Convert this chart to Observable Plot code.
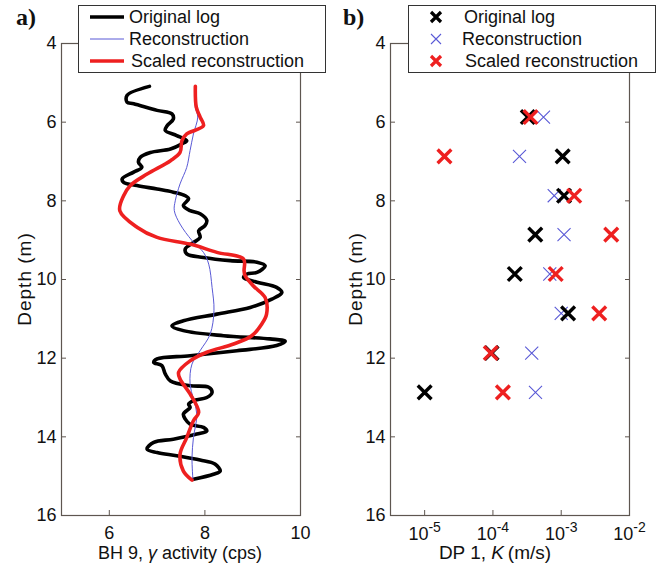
<!DOCTYPE html>
<html><head><meta charset="utf-8">
<script src="https://cdn.jsdelivr.net/npm/d3@7"></script>
<script src="https://cdn.jsdelivr.net/npm/@observablehq/plot@0.6"></script>
<style>
body{margin:0;background:#fff;}
#wrap{position:relative;width:669px;height:567px;font-family:"Liberation Sans",Arial,sans-serif;color:#111;overflow:hidden;background:#fff;}
#wrap svg{position:absolute;top:0;}
.t{position:absolute;white-space:nowrap;font-size:18px;line-height:18px;}
.legend{position:absolute;background:#fff;border:1px solid #333;box-sizing:border-box;}
.legend svg{position:absolute;}
.plab{position:absolute;font-family:"Liberation Serif","Times New Roman",serif;font-weight:bold;font-size:24px;line-height:24px;}
</style></head>
<body><div id="wrap"></div>
<script>
// ---------- Panel a: gamma log (cps) vs depth (m)
const origDepth = [5.09,5.32,5.49,5.53,5.70,5.79,5.92,6.09,6.21,6.34,6.47,6.55,6.68,6.77,6.89,7.02,7.15,7.27,7.44,7.53,7.61,7.70,7.78,7.87,7.95,8.12,8.25,8.33,8.50,8.63,8.76,8.93,9.06,9.22,9.35,9.44,9.52,9.56,9.65,9.82,9.86,9.95,10.07,10.20,10.33,10.50,10.71,10.88,11.05,11.18,11.30,11.43,11.51,11.57,11.68,11.81,11.94,12.02,12.11,12.19,12.40,12.58,12.70,12.74,12.87,13.00,13.08,13.17,13.25,13.42,13.55,13.68,13.76,13.85,13.93,14.06,14.14,14.31,14.40,14.48,14.59,14.69,14.87,14.95,15.08];
const origGamma = [6.84,6.37,6.37,6.51,7.00,7.31,7.34,7.21,7.17,7.41,7.62,7.52,7.28,6.86,6.65,6.61,6.68,6.51,6.27,6.30,6.58,7.00,7.34,7.59,7.66,7.55,7.69,7.90,8.04,8.00,7.87,7.90,7.76,7.59,7.62,7.97,8.53,9.09,9.26,9.09,8.88,8.81,9.09,9.50,9.61,9.40,8.95,8.25,7.55,7.31,7.55,8.39,9.36,9.68,9.50,8.67,7.69,7.00,6.93,7.10,7.17,7.28,7.69,8.08,8.15,8.04,7.76,7.66,7.69,7.55,7.59,7.69,7.97,8.04,7.83,7.34,6.93,6.79,7.00,7.41,7.90,8.21,8.32,8.18,7.76];
const recDepth = [5.09,5.62,5.87,6.30,6.72,7.15,7.57,8.00,8.25,8.59,9.01,9.31,9.61,10.20,10.79,11.39,11.81,12.15,12.66,13.42,14.02,14.53,15.10];
const recGamma = [7.80,7.80,7.85,7.76,7.69,7.62,7.48,7.38,7.36,7.48,7.73,7.97,8.08,8.15,8.19,8.11,7.90,7.73,7.69,7.83,7.76,7.73,7.75];
const scaledDepth = [5.09,5.62,5.87,6.09,6.30,6.47,6.77,6.98,7.32,7.61,7.87,8.25,8.67,8.93,9.10,9.31,9.48,9.78,9.90,10.16,10.46,10.88,11.13,11.43,11.64,11.85,12.07,12.36,12.53,12.91,13.38,13.59,14.02,14.44,14.87,15.10];
const scaledGamma = [7.80,7.82,7.90,7.97,7.62,7.52,7.48,7.28,6.79,6.44,6.30,6.22,6.58,7.00,7.69,8.25,8.81,8.82,8.84,9.01,9.26,9.29,9.19,8.98,8.60,8.04,7.69,7.45,7.48,7.69,7.87,7.76,7.62,7.48,7.55,7.73];

// ---------- Panel b: hydraulic conductivity K (m/s) at DP 1
const kDepth = [5.87,6.87,7.87,8.86,9.86,10.86,11.87,12.87];
const kOrig = [3.24e-4,1.05e-3,1.10e-3,4.17e-4,2.09e-4,1.26e-3,9.55e-5,1.0e-5];
const kRec = [5.5e-4,2.45e-4,7.9e-4,1.1e-3,6.8e-4,1.0e-3,3.7e-4,4.2e-4];
const kScaled = [3.55e-4,1.95e-5,1.55e-3,5.4e-3,8.3e-4,3.6e-3,9.3e-5,1.4e-4];

const depthTicks = [4,6,8,10,12,14,16];
const gammaTicks = [6,8,10];
const kTicks = [1e-5,1e-4,1e-3,1e-2];
const seriesNames = ["Original log","Reconstruction","Scaled reconstruction"];
const xLabelA = "BH 9, <i>γ</i> activity (cps)";
const xLabelB = "DP 1, <i>K</i>&thinsp;(m/s)";
const yLabel = "Depth (m)";

const C_BLACK = "#000", C_BLUE = "#5959d6", C_RED = "#ee2020", C_AXIS = "#5e5650";
const toRows = (ds, vs) => ds.map((d, i) => ({depth: d, v: vs[i]}));

const axisMarks = (xticks, xfmt, xpad) => [
  Plot.axisX({ticks: xticks, tickSize: -5, tickFormat: () => "", label: null, stroke: C_AXIS}),
  Plot.axisX({ticks: xticks, tickSize: 0, tickPadding: xpad, tickFormat: xfmt, label: null}),
  Plot.axisY({ticks: depthTicks, tickSize: -5, tickFormat: () => "", label: null, stroke: C_AXIS}),
  Plot.axisY({ticks: depthTicks, tickSize: 0, tickPadding: 5, label: null}),
  Plot.axisY({anchor: "right", ticks: depthTicks, tickSize: -5, tickFormat: () => "", label: null, stroke: C_AXIS}),
  Plot.frame({stroke: C_AXIS, strokeWidth: 1.2})
];
const common = {
  height: 567, marginTop: 43, marginBottom: 52,
  style: {fontFamily: "Liberation Sans, Arial, sans-serif", fontSize: "18px", color: "#111", background: "transparent", overflow: "visible"},
  y: {domain: [4, 16], reverse: true}
};

const plotA = Plot.plot({
  ...common, width: 330, marginLeft: 61, marginRight: 30,
  x: {domain: [5, 10]},
  marks: [
    ...axisMarks(gammaTicks, d => String(d), 11),
    Plot.line(toRows(origDepth, origGamma), {x: "v", y: "depth", stroke: C_BLACK, strokeWidth: 3.6, curve: "catmull-rom"}),
    Plot.line(toRows(recDepth, recGamma), {x: "v", y: "depth", stroke: C_BLUE, strokeWidth: 1, curve: "catmull-rom"}),
    Plot.line(toRows(scaledDepth, scaledGamma), {x: "v", y: "depth", stroke: C_RED, strokeWidth: 3.6, curve: "catmull-rom"})
  ]
});
plotA.style.left = "0px";

const plotB = Plot.plot({
  ...common, width: 339, marginLeft: 60, marginRight: 40,
  x: {type: "log", domain: [Math.pow(10, -5.5), 1e-2]},
  marks: [
    ...axisMarks(kTicks, d => "10^" + Math.round(Math.log10(d)), 12),
    Plot.dot(toRows(kDepth, kRec), {x: "v", y: "depth", symbol: "times", r: 6, stroke: C_BLUE, strokeWidth: 1.1}),
    Plot.dot(toRows(kDepth, kOrig), {x: "v", y: "depth", symbol: "times", r: 6.3, stroke: C_BLACK, strokeWidth: 3.4}),
    Plot.dot(toRows(kDepth, kScaled), {x: "v", y: "depth", symbol: "times", r: 6.3, stroke: C_RED, strokeWidth: 3.4})
  ]
});
plotB.style.left = "330px";

// superscript exponents for log tick labels
d3.select(plotB).selectAll('g[aria-label="x-axis tick label"] text').each(function() {
  const m = this.textContent.match(/^10\^(-?\d+)$/);
  if (!m) return;
  this.textContent = "10";
  const ts = document.createElementNS("http://www.w3.org/2000/svg", "tspan");
  ts.setAttribute("dy", "-8");
  ts.setAttribute("font-size", "14");
  ts.textContent = m[1];
  this.appendChild(ts);
});

const wrap = document.getElementById("wrap");
wrap.appendChild(plotA);
wrap.appendChild(plotB);

function addText(html, x, y, cls = "t", extra = "") {
  const d = document.createElement("div");
  d.className = cls;
  d.innerHTML = html;
  d.style.cssText += `left:${x}px;top:${y}px;${extra}`;
  wrap.appendChild(d);
  return d;
}
// axis labels
addText(xLabelA, 180, 544, "t", "transform:translateX(-50%);");
addText(xLabelB, 495, 544, "t", "transform:translateX(-50%);font-size:19px;");
addText(yLabel, 25, 279, "t", "transform:translate(-50%,-50%) rotate(-90deg);font-size:19px;letter-spacing:1px;");
addText(yLabel, 356, 279, "t", "transform:translate(-50%,-50%) rotate(-90deg);font-size:19px;letter-spacing:1px;");
// panel labels
addText("a)", 16, 5, "plab");
addText("b)", 343, 5, "plab");

// legends
function legend(left, kind, textX) {
  const box = document.createElement("div");
  box.className = "legend";
  box.style.cssText = `left:${left}px;top:5px;width:248px;height:68px;`;
  wrap.appendChild(box);
  const colors = [C_BLACK, C_BLUE, C_RED];
  const widths = kind === "line" ? [3.6, 1, 3.6] : [3.2, 1.1, 3.2];
  seriesNames.forEach((name, i) => {
    const cy = 12 + i * 22;
    const svg = document.createElementNS("http://www.w3.org/2000/svg", "svg");
    if (kind === "line") {
      svg.setAttribute("width", 36); svg.setAttribute("height", 8);
      svg.style.left = "10px"; svg.style.top = (cy - 4 - 1) + "px";
      svg.innerHTML = `<line x1="1" x2="35" y1="4" y2="4" stroke="${colors[i]}" stroke-width="${widths[i]}"/>`;
    } else {
      svg.setAttribute("width", 16); svg.setAttribute("height", 16);
      svg.style.left = "19px"; svg.style.top = (cy - 8 - 1) + "px";
      svg.innerHTML = `<path d="M3,3L13,13M3,13L13,3" stroke="${colors[i]}" stroke-width="${widths[i]}" fill="none"/>`;
    }
    box.appendChild(svg);
    const t = document.createElement("div");
    t.className = "t";
    t.textContent = name;
    t.style.left = textX[i] + "px";
    t.style.top = (cy - 9 - 1) + "px";
    box.appendChild(t);
  });
}
legend(78, "line", [50, 50, 52]);
legend(408, "cross", [55, 53, 56]);
</script></body></html>
